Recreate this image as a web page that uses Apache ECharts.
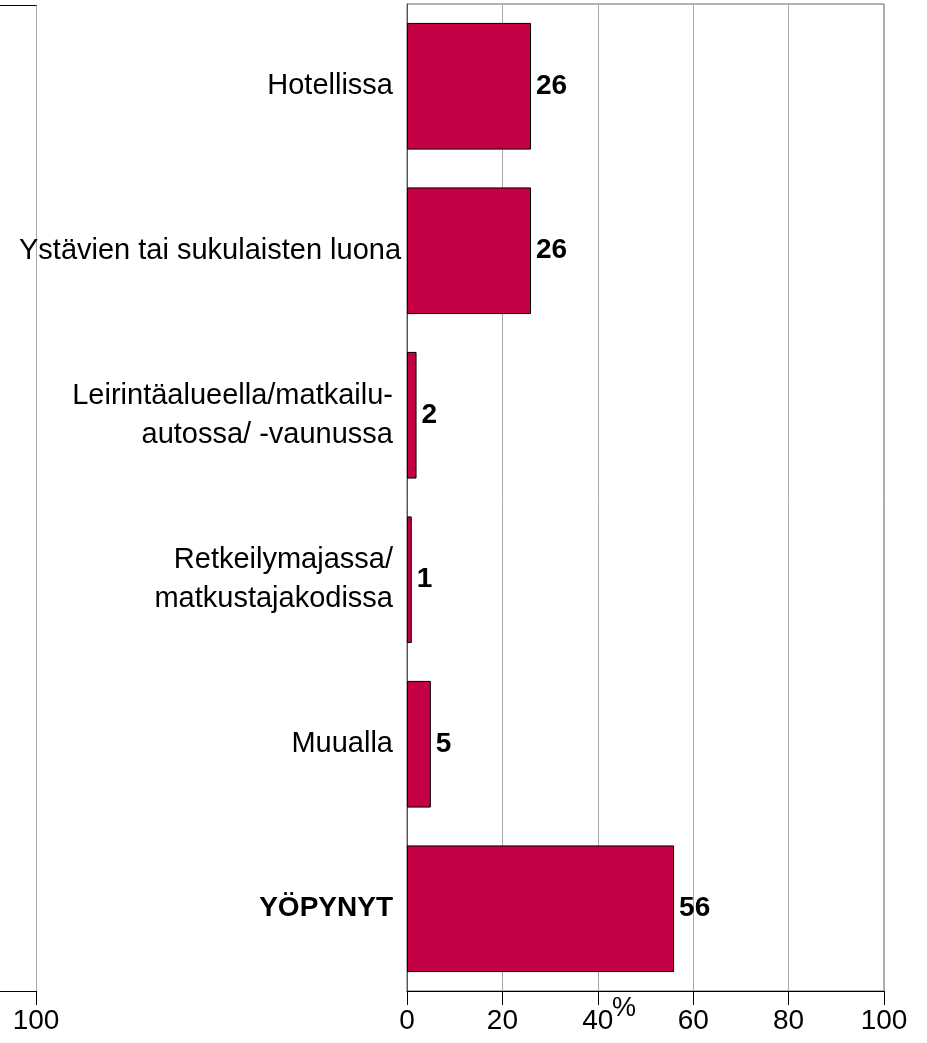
<!DOCTYPE html>
<html><head><meta charset="utf-8">
<script src="https://cdn.jsdelivr.net/npm/echarts@6/dist/echarts.min.js"></script>
<style>html,body{margin:0;padding:0;background:#fff}#c{width:927px;height:1043px}</style>
</head><body><div id="c"></div>
<script>
var categories = ['Hotellissa', 'Ystävien tai sukulaisten luona', 'Leirintäalueella/matkailu-\nautossa/ -vaunussa', 'Retkeilymajassa/\nmatkustajakodissa', 'Muualla', 'YÖPYNYT'];
var values = [26, 26, 2, 1, 5, 56];
var xTicks = [0, 20, 40, 60, 80, 100];
var leftTicks = [100];
var FONT = '"Liberation Sans", Arial, sans-serif';
var chart = echarts.init(document.getElementById('c'));
chart.setOption({
  animation: false,
  grid: [
    {left: 407, top: 4, width: 477, height: 987, show: true, borderColor: '#666', borderWidth: 1, containLabel: false},
    {left: -5, top: 5, width: 41, height: 986, show: false, containLabel: false}
  ],
  xAxis: [
    {gridIndex: 0, type: 'value', min: xTicks[0], max: xTicks[xTicks.length-1], interval: 20,
     axisLine: {show: true, lineStyle: {color: '#000', width: 1}},
     axisTick: {show: true, length: 14, lineStyle: {color: '#000'}},
     axisLabel: {fontFamily: FONT, fontSize: 28, color: '#000', margin: 16},
     splitLine: {show: true, lineStyle: {color: '#aaa', width: 1}}},
    {gridIndex: 1, type: 'value', min: 0, max: 100, interval: 100,
     axisLine: {show: true, lineStyle: {color: '#000', width: 1}},
     axisTick: {show: true, length: 14, customValues: leftTicks, lineStyle: {color: '#000'}},
     axisLabel: {fontFamily: FONT, fontSize: 28, color: '#000', margin: 16, customValues: leftTicks},
     splitLine: {show: true, lineStyle: {color: '#aaa', width: 1}}},
    {gridIndex: 1, type: 'value', position: 'top', min: 0, max: 100, interval: 100,
     axisLine: {show: true, lineStyle: {color: '#000', width: 1}},
     axisTick: {show: false}, axisLabel: {show: false}, splitLine: {show: false}}
  ],
  yAxis: [
    {gridIndex: 0, type: 'category', data: categories, inverse: true,
     axisLine: {show: true, lineStyle: {color: '#555'}},
     axisTick: {show: false},
     axisLabel: {fontFamily: FONT, fontSize: 29, color: '#000', margin: 14, lineHeight: 39, align: 'right',
       formatter: function (v) {
         if (v === 'YÖPYNYT') return '{b|' + v + '}';
         if (v === 'Ystävien tai sukulaisten luona') return '{w|' + v + '}';
         return v;
       },
       rich: {
         b: {fontFamily: FONT, fontSize: 28, fontWeight: 'bold', color: '#000'},
         w: {fontFamily: FONT, fontSize: 29, color: '#000', width: 374, align: 'left', overflow: 'none'}
       }}},
    {gridIndex: 1, type: 'category', data: categories, inverse: true,
     axisLine: {show: false}, axisTick: {show: false}, axisLabel: {show: false}}
  ],
  series: [{
    type: 'bar', xAxisIndex: 0, yAxisIndex: 0, data: values,
    barCategoryGap: '23%',
    itemStyle: {color: '#C40046', borderColor: '#000', borderWidth: 1},
    label: {show: true, position: 'right', distance: 5, fontFamily: FONT, fontSize: 28, fontWeight: 'bold', color: '#000'}
  }],
  graphic: [{type: 'text', left: 612, top: 995, style: {text: '%', font: '27px ' + FONT, fill: '#000'}}]
});
</script></body></html>
